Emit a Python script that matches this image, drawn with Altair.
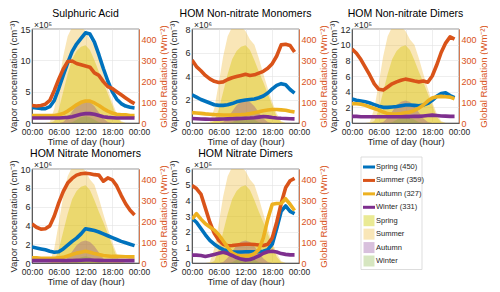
import altair as alt
import pandas as pd

# ---------------- data ----------------
HOURS = list(range(24))
TICK_HOURS = [0, 6, 12, 18, 24]
TICK_LABELS = ["00:00", "06:00", "12:00", "18:00", "00:00"]

SEASONS = ["Spring", "Summer", "Autumn", "Winter"]
LINE_LABELS = ["Spring (450)", "Summer (359)", "Autumn (327)", "Winter (331)"]
AREA_LABELS = ["Spring", "Summer", "Autumn", "Winter"]
LINE_COLORS = ["#0072BD", "#D95319", "#EDB120", "#7E2F8E"]
AREA_COLORS = ["#CCCC00", "#EDB120", "#7E2F8E", "#77AC30"]
AREA_OPACITY = [0.42, 0.32, 0.3, 0.3]

# global radiation (W m-2), hourly 00..23
RAD_SPRING = [0, 0, 0, 0, 0, 10, 65, 150, 235, 305, 345, 365, 372, 350, 300, 245, 195, 140, 85, 30, 3, 0, 0, 0]
RAD_SUMMER = [0, 0, 0, 0, 5, 70, 190, 320, 415, 460, 470, 460, 440, 400, 375, 310, 235, 165, 100, 45, 10, 0, 0, 0]
RAD_AUTUMN = [0, 0, 0, 0, 0, 0, 0, 5, 25, 55, 85, 102, 108, 100, 80, 50, 22, 5, 0, 0, 0, 0, 0, 0]
RAD_WINTER = [0, 0, 0, 0, 0, 0, 0, 0, 0, 3, 15, 27, 32, 27, 15, 4, 0, 0, 0, 0, 0, 0, 0, 0]
RADIATION = [RAD_SPRING, RAD_SUMMER, RAD_AUTUMN, RAD_WINTER]
RAD_TICKS = [0, 100, 200, 300, 400]

TITLES = ["Sulphuric Acid", "HOM Non-nitrate Monomers", "HOM Non-nitrate Dimers",
          "HOM Nitrate Monomers", "HOM Nitrate Dimers"]
EXPONENTS = ["⁵", "⁶", "⁵", "⁶", "⁵"]
Y_MAX = [15, 8, 12, 10, 6]
Y_TICKS = [[0, 5, 10, 15], [0, 2, 4, 6, 8], [0, 2, 4, 6, 8, 10, 12],
           [0, 2, 4, 6, 8, 10], [0, 1, 2, 3, 4, 5, 6]]

# vapour concentrations (in units of the panel exponent), hourly 00..23
P1_SPRING = [2.5, 2.4, 2.3, 2.3, 2.6, 3.6, 5.5, 7.6, 9.6, 11.4, 12.6, 13.5, 14.4, 14.2, 12.9, 10.9, 8.7, 6.7, 5.0, 3.8, 3.1, 2.7, 2.5, 2.4]
P1_SUMMER = [2.8, 2.7, 2.8, 3.0, 3.6, 5.2, 7.0, 8.6, 9.8, 9.9, 9.5, 9.3, 9.1, 8.9, 8.0, 7.6, 6.6, 5.8, 5.5, 5.0, 4.5, 4.0, 3.5, 3.1]
P1_AUTUMN = [1.2, 1.2, 1.2, 1.2, 1.2, 1.2, 1.3, 1.5, 1.9, 2.4, 2.9, 3.3, 3.5, 3.5, 3.2, 2.8, 2.3, 1.9, 1.6, 1.4, 1.3, 1.3, 1.2, 1.2]
P1_WINTER = [0.8, 0.8, 0.8, 0.8, 0.8, 0.8, 0.8, 0.85, 0.9, 1.0, 1.2, 1.4, 1.5, 1.5, 1.4, 1.2, 1.0, 0.9, 0.85, 0.8, 0.8, 0.8, 0.8, 0.8]

P2_SPRING = [2.4, 2.2, 2.0, 1.85, 1.7, 1.55, 1.5, 1.5, 1.55, 1.65, 1.8, 1.9, 1.95, 2.0, 2.05, 2.15, 2.3, 2.55, 2.9, 3.2, 3.35, 3.25, 2.85, 2.55]
P2_SUMMER = [5.35, 4.8, 4.45, 4.05, 3.75, 3.55, 3.45, 3.5, 3.7, 3.85, 3.95, 4.05, 4.15, 4.05, 4.1, 4.25, 4.4, 4.65, 5.05, 5.7, 6.65, 6.7, 6.6, 6.05]
P2_AUTUMN = [0.88, 0.85, 0.82, 0.78, 0.75, 0.72, 0.7, 0.68, 0.68, 0.68, 0.7, 0.72, 0.75, 0.8, 0.88, 0.95, 1.05, 1.1, 1.15, 1.15, 1.12, 1.08, 1.0, 0.93]
P2_WINTER = [0.38, 0.36, 0.34, 0.33, 0.32, 0.32, 0.33, 0.34, 0.35, 0.36, 0.37, 0.38, 0.4, 0.42, 0.45, 0.5, 0.55, 0.52, 0.47, 0.43, 0.4, 0.38, 0.36, 0.35]

P3_SPRING = [3.05, 2.9, 2.8, 2.7, 2.55, 2.35, 2.15, 2.0, 2.0, 2.05, 2.1, 2.2, 2.3, 2.3, 2.25, 2.2, 2.3, 2.5, 2.9, 3.4, 3.75, 3.85, 3.5, 3.25]
P3_SUMMER = [9.45, 8.9, 8.1, 7.1, 6.1, 5.0, 4.3, 4.2, 4.6, 5.0, 5.25, 5.45, 5.6, 5.5, 5.35, 5.25, 5.35, 5.2, 6.0, 7.4, 9.0, 10.2, 11.0, 10.7]
P3_AUTUMN = [2.45, 2.45, 2.4, 2.25, 2.05, 1.85, 1.65, 1.4, 1.2, 1.15, 1.15, 1.2, 1.3, 1.4, 1.6, 1.9, 2.3, 2.8, 3.2, 3.35, 3.4, 3.35, 3.3, 3.1]
P3_WINTER = [0.85, 0.85, 0.8, 0.8, 0.8, 0.8, 0.8, 0.8, 0.8, 0.8, 0.8, 0.8, 0.82, 0.82, 0.85, 0.85, 0.9, 0.95, 1.0, 0.95, 0.9, 0.88, 0.85, 0.85]

P4_SPRING = [1.7, 1.6, 1.5, 1.4, 1.25, 1.15, 1.2, 1.5, 1.9, 2.3, 2.65, 3.1, 3.65, 3.55, 3.45, 3.3, 3.1, 2.9, 2.7, 2.5, 2.3, 2.15, 2.0, 1.85]
P4_SUMMER = [4.15, 3.8, 3.6, 3.65, 3.95, 5.0, 6.4, 7.6, 8.5, 9.0, 9.35, 9.5, 9.55, 9.5, 9.4, 9.35, 8.7, 9.05, 8.85, 8.2, 7.2, 6.3, 5.6, 5.1]
P4_AUTUMN = [0.55, 0.55, 0.5, 0.5, 0.5, 0.5, 0.55, 0.6, 0.75, 0.9, 1.05, 1.15, 1.25, 1.15, 1.0, 0.9, 0.8, 0.75, 0.7, 0.7, 0.68, 0.66, 0.65, 0.65]
P4_WINTER = [0.25, 0.25, 0.25, 0.25, 0.25, 0.25, 0.25, 0.25, 0.25, 0.27, 0.28, 0.3, 0.32, 0.32, 0.3, 0.28, 0.27, 0.26, 0.25, 0.25, 0.25, 0.25, 0.25, 0.25]

P5_SPRING = [2.85, 2.6, 2.2, 1.8, 1.45, 1.2, 1.0, 0.85, 0.78, 0.72, 0.7, 0.7, 0.72, 0.72, 0.72, 0.72, 0.75, 0.85, 1.2, 2.2, 3.3, 3.65, 3.3, 3.15]
P5_SUMMER = [4.95, 4.75, 4.4, 3.5, 2.6, 1.9, 1.45, 1.2, 1.1, 1.12, 1.15, 1.18, 1.2, 1.2, 1.18, 1.15, 1.12, 1.2, 1.6, 2.6, 3.8, 4.8, 5.25, 5.4]
P5_AUTUMN = [2.8, 3.15, 2.8, 2.5, 2.3, 2.1, 1.8, 1.4, 1.0, 0.65, 0.5, 0.45, 0.45, 0.48, 0.6, 0.85, 1.6, 2.8, 3.75, 3.8, 3.8, 4.1, 3.75, 3.35]
P5_WINTER = [0.5, 0.5, 0.48, 0.42, 0.48, 0.55, 0.62, 0.68, 0.6, 0.48, 0.35, 0.25, 0.2, 0.22, 0.32, 0.45, 0.62, 0.72, 0.75, 0.7, 0.6, 0.55, 0.52, 0.52]

PANEL_SERIES = [
    [P1_SPRING, P1_SUMMER, P1_AUTUMN, P1_WINTER],
    [P2_SPRING, P2_SUMMER, P2_AUTUMN, P2_WINTER],
    [P3_SPRING, P3_SUMMER, P3_AUTUMN, P3_WINTER],
    [P4_SPRING, P4_SUMMER, P4_AUTUMN, P4_WINTER],
    [P5_SPRING, P5_SUMMER, P5_AUTUMN, P5_WINTER],
]

# ---------------- styling ----------------
FONT = "Liberation Sans"
DARK = "#262626"
ORANGE = "#D95319"
GRID = "#e2e2e2"
W, H = 107, 94
SC = 0      # column spacing
SR = 2      # row spacing
SL = 32     # spacing before legend

label_expr = "[" + ",".join("'%s'" % t for t in TICK_LABELS) + "][round(datum.value/6)]"

x_axis = alt.Axis(values=TICK_HOURS, labelExpr=label_expr, title="Time of day (hour)",
                  grid=True, gridColor=GRID, gridWidth=0.6, ticks=False,
                  domainColor=DARK, domainWidth=0.7, labelFontSize=8.5, titleFontSize=9.5,
                  labelPadding=4.5, titlePadding=0, labelColor=DARK, titleColor=DARK,
                  labelFlush=False, labelOverlap=False, titleFontWeight="normal")
x_enc = alt.X("hour:Q", scale=alt.Scale(domain=[0, 24], nice=False, zero=False), axis=x_axis)

rad_axis = alt.Axis(orient="right", values=RAD_TICKS, title="Global Radiation (Wm⁻²)",
                    grid=False, ticks=False, domainColor=ORANGE, domainWidth=0.7,
                    labelColor=ORANGE, titleColor=ORANGE, labelFontSize=9, titleFontSize=9.5,
                    labelPadding=2, titlePadding=2, titleFontWeight="normal", titleAngle=270,
                    titleBaseline="top", labelOverlap=False)


def panel(i):
    area_df = pd.DataFrame({
        "hour": HOURS * 4,
        "rad": [v for arr in RADIATION for v in arr],
        "season": [s for s in SEASONS for _ in HOURS],
    })
    line_df = pd.DataFrame({
        "hour": HOURS * 4,
        "conc": [v for arr in PANEL_SERIES[i] for v in arr],
        "season": [s for s in SEASONS for _ in HOURS],
    })
    two_digit = max(Y_TICKS[i]) >= 10
    conc_axis = alt.Axis(orient="left", values=Y_TICKS[i], title="Vapor concentration (cm⁻³)",
                         grid=True, gridColor=GRID, gridWidth=0.6, ticks=False,
                         domainColor=DARK, domainWidth=0.7, labelColor=DARK, titleColor=DARK,
                         labelFontSize=9, titleFontSize=9.5, labelPadding=2,
                         titlePadding=1 if two_digit else 6, titleFontWeight="normal",
                         labelOverlap=False)
    areas = alt.layer(*[
        alt.Chart(area_df).transform_filter(alt.datum.season == s)
        .mark_area(clip=True, color=c, opacity=o, interpolate="linear")
        .encode(x=x_enc,
                y=alt.Y("rad:Q", scale=alt.Scale(domain=[0, 450], nice=False), axis=rad_axis))
        for s, c, o in zip(SEASONS, AREA_COLORS, AREA_OPACITY)
    ])
    lines = alt.layer(*[
        alt.Chart(line_df).transform_filter(alt.datum.season == s)
        .mark_line(color=c, strokeWidth=3.6, strokeJoin="round", clip=True)
        .encode(x=x_enc,
                y=alt.Y("conc:Q", scale=alt.Scale(domain=[0, Y_MAX[i]], nice=False), axis=conc_axis))
        for s, c in zip(SEASONS, LINE_COLORS)
    ])
    txt_df = pd.DataFrame({"title": [TITLES[i]], "exp": ["×10" + EXPONENTS[i]]})
    title = alt.Chart(txt_df).mark_text(fontSize=10.5, baseline="alphabetic", align="center",
                                        color="black", font=FONT).encode(
        x=alt.value(W / 2), y=alt.value(-12), text="title:N")
    expo = alt.Chart(txt_df).mark_text(fontSize=8.5, baseline="alphabetic", align="left",
                                       color=DARK, font=FONT).encode(
        x=alt.value(2), y=alt.value(-1), text="exp:N")
    return alt.layer(areas, lines, title, expo).resolve_scale(y="independent").properties(
        width=W, height=H)


# ---------------- legend panel ----------------
ALL_LABELS = LINE_LABELS + AREA_LABELS
N_LEG = len(ALL_LABELS)
leg_df = pd.DataFrame({"label": ALL_LABELS, "idx": list(range(N_LEG)),
                       "kind": ["line"] * 4 + ["patch"] * 4})
box_df = pd.DataFrame({"first": [0], "last": [N_LEG - 1]})
LEG_W, LEG_H = 61, 96
leg_scale = alt.Scale(domain=[0, N_LEG - 1], range=[-2, 92], nice=False, zero=False)
leg_y = alt.Y("idx:Q", scale=leg_scale, axis=None)

leg_box = alt.Chart(box_df).mark_rect(fill="white", stroke="#d4d4d4", strokeWidth=0.8,
                                      yOffset=-10, y2Offset=8.5).encode(
    x=alt.value(0), x2=alt.value(LEG_W),
    y=alt.Y("first:Q", scale=leg_scale, axis=None), y2="last:Q")
leg_lines = alt.Chart(leg_df).transform_filter(alt.datum.kind == "line").mark_rule(strokeWidth=3).encode(
    x=alt.value(2), x2=alt.value(14), y=leg_y,
    color=alt.Color("label:N", scale=alt.Scale(domain=LINE_LABELS, range=LINE_COLORS), legend=None))
leg_patches = [
    alt.Chart(leg_df).transform_filter(alt.datum.label == lab).transform_filter(alt.datum.kind == "patch")
    .mark_square(size=121, filled=True, color=c, opacity=o)
    .encode(x=alt.value(8), y=leg_y)
    for lab, c, o in zip(AREA_LABELS, AREA_COLORS, AREA_OPACITY)
]
leg_text = alt.Chart(leg_df).mark_text(align="left", baseline="middle", fontSize=7.5,
                                       color=DARK, font=FONT).encode(
    x=alt.value(15), y=leg_y, text="label:N")
legend = alt.layer(leg_box, leg_lines, *leg_patches, leg_text).properties(
    width=LEG_W, height=LEG_H, view=alt.ViewBackground(stroke="transparent"))

# ---------------- layout ----------------
row1 = alt.hconcat(panel(0), panel(1), panel(2), spacing=SC)
row2 = alt.hconcat(alt.hconcat(panel(3), panel(4), spacing=SC), legend, spacing=SL)
chart = alt.vconcat(row1, row2, spacing=SR).properties(padding=0, background="white").configure(
    font=FONT).configure_view(stroke=DARK, strokeWidth=0.6)

chart.save("out.html", embed_options={"renderer": "svg", "actions": False})
